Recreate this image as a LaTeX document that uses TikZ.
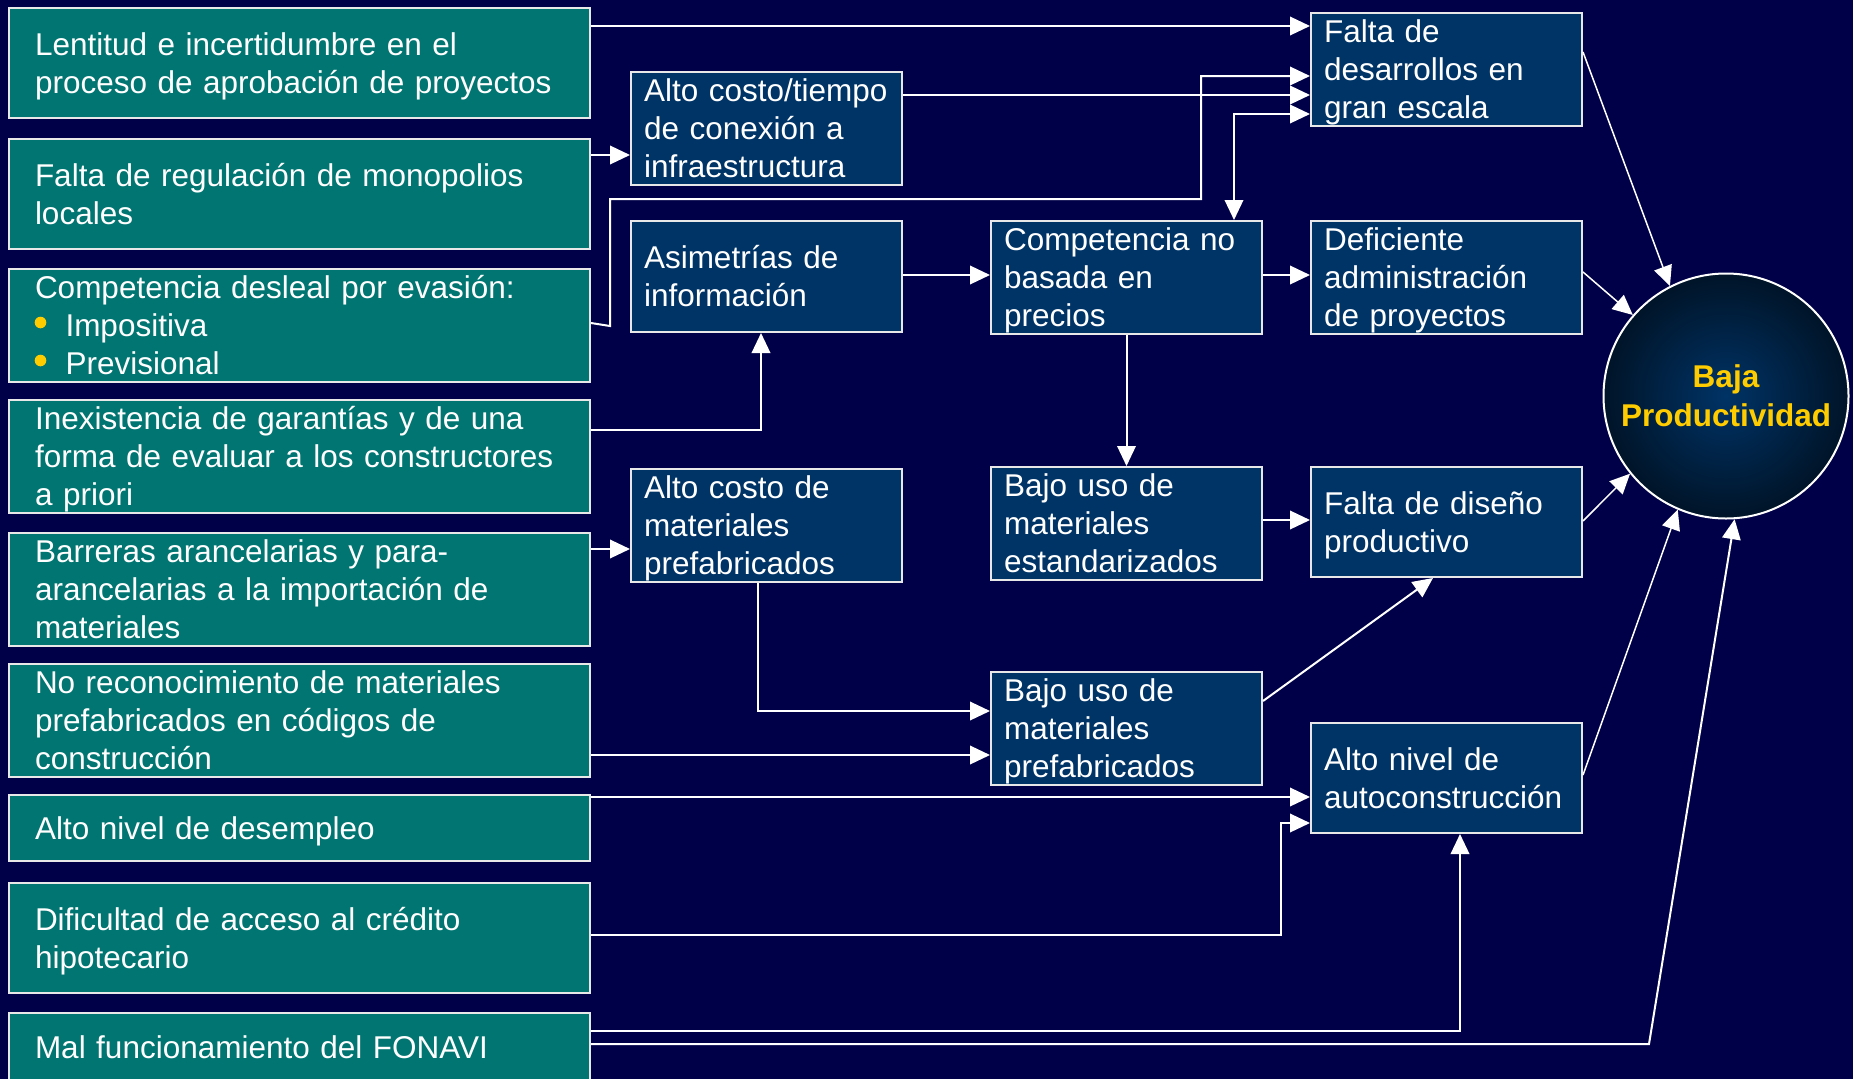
\documentclass[tikz,border=0pt]{standalone}
\usepackage{fontspec}
\setmainfont{Liberation Sans}
\usetikzlibrary{arrows.meta,calc}
\definecolor{bg}{HTML}{000048}
\definecolor{teal1}{HTML}{007571}
\definecolor{blue1}{HTML}{003366}
\definecolor{bord}{HTML}{E8E8E8}
\definecolor{circout}{HTML}{001428}
\definecolor{yel}{HTML}{FFCC00}
\newcommand\bodyfont{\fontsize{31.5pt}{38pt}\selectfont}
\newcommand\hs{\rule[-0.234em]{0pt}{1.184em}}
\newcommand\bulspace{\hspace*{30.5pt}}
\tikzset{
  basebox/.style={draw=bord, line width=2pt, anchor=north west, inner ysep=0pt,
    align=left, font=\bodyfont, text=white,
    execute at begin node=\hs, execute at end node=\hs},
  tbox/.style={basebox, fill=teal1, inner xsep=26pt, text width=529pt},
  bbox/.style={basebox, fill=blue1, inner xsep=13pt, text width=245pt},
  tip/.tip={Triangle[length=20pt,width=18.5pt]},
  conn/.style={draw=white, line width=2pt, -tip},
  conn2/.style={draw=white, line width=2pt, tip-tip},
  connt/.style={draw=white, line width=1.5pt, -tip},
  bullet/.style={fill=yel},
}
\begin{document}
\begin{tikzpicture}[x=1pt,y=-1pt]
\fill[bg] (0,0) rectangle (1853,1079);
\useasboundingbox (0,0) rectangle (1853,1079);

% left column
\node[tbox, minimum height=110pt] (lent) at (8,7) {Lentitud e incertidumbre en el\\proceso de aprobación de proyectos};
\node[tbox, minimum height=110pt] (reg) at (8,138) {Falta de regulación de monopolios\\locales};
\node[tbox, minimum height=110pt] (desl) at (8,268) {Competencia desleal por evasión:\\\bulspace Impositiva\\\bulspace Previsional};
\fill[bullet] (40.5,322.5) circle (5.8);
\fill[bullet] (40.5,360.5) circle (5.8);
\node[tbox, minimum height=110pt] (inex) at (8,399) {Inexistencia de garantías y de una\\forma de evaluar a los constructores\\a priori};
\node[tbox, minimum height=110pt] (barr) at (8,532) {Barreras arancelarias y para-\\arancelarias a la importación de\\materiales};
\node[tbox, minimum height=110pt] (norec) at (8,663) {No reconocimiento de materiales\\prefabricados en códigos de\\construcción};
\node[tbox, minimum height=66pt] (desem) at (8,794) {Alto nivel de desempleo};
\node[tbox, minimum height=110pt] (dif) at (8,882) {Dificultad de acceso al crédito\\hipotecario};
\node[tbox, minimum height=68pt] (mal) at (8,1012) {Mal funcionamiento del FONAVI};

% middle column
\node[bbox, minimum height=110pt] (act) at (630,71) {Alto costo/tiempo\\de conexión a\\infraestructura};
\node[bbox, minimum height=111pt] (asim) at (630,220) {Asimetrías de\\información};
\node[bbox, minimum height=111pt] (acm) at (630,468) {Alto costo de\\materiales\\prefabricados};

% third column
\node[bbox, minimum height=111pt] (cnb) at (990,220) {Competencia no\\basada en\\precios};
\node[bbox, minimum height=110pt] (bue) at (990,466) {Bajo uso de\\materiales\\estandarizados};
\node[bbox, minimum height=110pt] (bup) at (990,671) {Bajo uso de\\materiales\\prefabricados};

% fourth column
\node[bbox, minimum height=111pt] (fde) at (1310,12) {Falta de\\desarrollos en\\gran escala};
\node[bbox, minimum height=111pt] (def) at (1310,220) {Deficiente\\administración\\de proyectos};
\node[bbox, minimum height=110pt] (fdp) at (1310,466) {Falta de diseño\\productivo};
\node[bbox, minimum height=110pt] (auto) at (1310,722) {Alto nivel de\\autoconstrucción};

% result
\node[circle, minimum size=245pt, inner sep=0pt, draw=white, line width=2pt,
  inner color=blue1, outer color=circout, text=yel, align=center,
  font=\bfseries\fontsize{31.5pt}{39pt}\selectfont] (bp) at (1726,396) {Baja\\Productividad};

% connectors
\draw[conn] (lent.east |- 0,26) -- (fde.west |- 0,26);
\draw[conn] (reg.east |- 0,155) -- (act.west |- 0,155);
\draw[conn] (act.east |- 0,95) -- (fde.west |- 0,95);
\draw[conn] (desl.east |- 0,323) -- (610,326) -- (610,199) -- (1201,199) -- (1201,76) -- (fde.west |- 0,76);
\draw[conn2] (fde.west |- 0,114) -| (cnb.north -| 1234,0);
\draw[conn] (asim.east |- 0,275) -- (cnb.west |- 0,275);
\draw[conn] (cnb.east |- 0,275) -- (def.west |- 0,275);
\draw[conn] (inex.east |- 0,430) -| (asim.south -| 761,0);
\draw[conn] (cnb.south) -- (bue.north);
\draw[conn] (bue.east |- 0,520) -- (fdp.west |- 0,520);
\draw[conn] (barr.east |- 0,549) -- (acm.west |- 0,549);
\draw[conn] (acm.south -| 758,0) |- (bup.west |- 0,711);
\draw[conn] (norec.east |- 0,755) -- (bup.west |- 0,755);
\draw[conn] (bup.east |- 0,701) -- (fdp.south -| 1433,0);
\draw[conn] (desem.east |- 0,797) -- (auto.west |- 0,797);
\draw[conn] (dif.east |- 0,935) -| (1281,823) -- (auto.west |- 0,823);
\draw[conn] (mal.east |- 0,1031) -| (auto.south -| 1460,0);
\draw[conn] (mal.east |- 0,1044) -- (1649,1044) -- (bp.-86);
\draw[connt] (fde.east |- 0,52) -- (bp.117);
\draw[connt] (def.east |- 0,272) -- (bp.139);
\draw[connt] (fdp.east |- 0,521) -- (bp.-141);
\draw[connt] (auto.east |- 0,775) -- (bp.-113);
\end{tikzpicture}
\end{document}
